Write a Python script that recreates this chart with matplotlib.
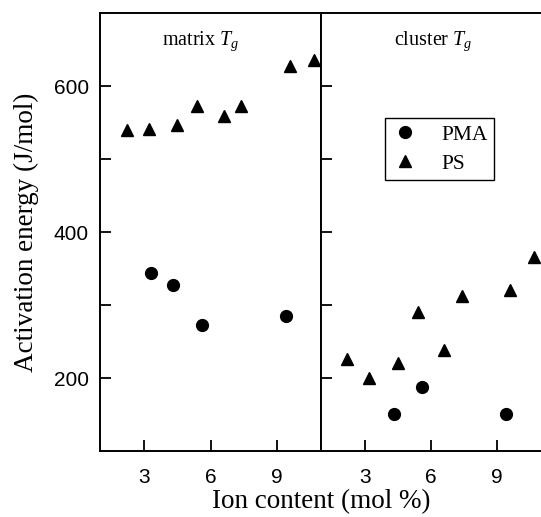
import matplotlib
matplotlib.use("Agg")
import matplotlib.pyplot as plt

# ---------- data ----------
ps_ion = [2.2, 3.2, 4.5, 5.4, 6.6, 7.4, 9.6, 10.7]
ps_matrix = [540, 541, 547, 573, 559, 572, 627, 636]
ps_cluster = [226, 200, 220, 290, 239, 312, 320, 366]

pma_ion_matrix = [3.3, 4.3, 5.6, 9.4]
pma_matrix = [344, 328, 272, 285]
pma_ion_cluster = [4.3, 5.6, 9.4]
pma_cluster = [151, 187, 151]

panel_titles = ["matrix $T_g$", "cluster $T_g$"]
x_ticks = [3, 6, 9]
y_ticks = [200, 300, 400, 500, 600]
y_labels = ["200", "", "400", "", "600"]

# ---------- style ----------
plt.rcParams["font.family"] = "Liberation Serif"
plt.rcParams["mathtext.fontset"] = "custom"
plt.rcParams["mathtext.rm"] = "Liberation Serif"
plt.rcParams["mathtext.it"] = "Liberation Serif:italic"

W, H = 541, 517
fig = plt.figure(figsize=(W / 100, H / 100), dpi=100)

def px_box(x0, x1, ytop, ybot):
    return [x0 / W, 1 - ybot / H, (x1 - x0) / W, (ybot - ytop) / H]

ax1 = fig.add_axes(px_box(100, 321, 13, 451))
ax2 = fig.add_axes(px_box(321, 541, 13, 451))

panels = [
    (ax1, pma_ion_matrix, pma_matrix, ps_matrix, 0.457),
    (ax2, pma_ion_cluster, pma_cluster, ps_cluster, 0.51),
]

for i, (ax, pma_x, pma_y, ps_y, tx) in enumerate(panels):
    ax.plot(pma_x, pma_y, "o", color="black", markersize=8.5, label="PMA", clip_on=False)
    ax.plot(ps_ion, ps_y, "^", color="black", markersize=9, label="PS", clip_on=False)
    ax.set_xlim(1, 11)
    ax.set_ylim(100, 700)
    ax.set_xticks(x_ticks)
    ax.set_yticks(y_ticks)
    ax.tick_params(direction="in", length=8, width=1.3, labelsize=15, pad=12)
    for lab in ax.get_xticklabels() + ax.get_yticklabels():
        lab.set_fontfamily("Liberation Sans")
    for sp in ax.spines.values():
        sp.set_linewidth(1.4)
    ax.text(tx, 0.927, panel_titles[i], transform=ax.transAxes,
            ha="center", va="baseline", fontsize=14.5)

ax1.set_yticklabels(y_labels)
ax1.tick_params(axis="y", pad=8)
ax2.set_yticklabels([])
ax2.spines["right"].set_visible(False)

leg = ax2.legend(loc="upper left", bbox_to_anchor=(385 / W, 1 - 118 / H),
                 bbox_transform=fig.transFigure, borderaxespad=0,
                 fancybox=False, edgecolor="black", framealpha=1,
                 fontsize=15.5, handletextpad=1.0, labelspacing=0.42,
                 borderpad=0.3, handlelength=1.3)
leg.get_frame().set_linewidth(1.0)

fig.text(321 / W, 9 / H, "Ion content (mol %)", ha="center",
         va="baseline", fontsize=19.5)
fig.text(26 / W, 1 - 232 / H, "Activation energy (J/mol)", ha="center",
         va="center", rotation=90, fontsize=19.5)

fig.savefig("out.png", dpi=100)
